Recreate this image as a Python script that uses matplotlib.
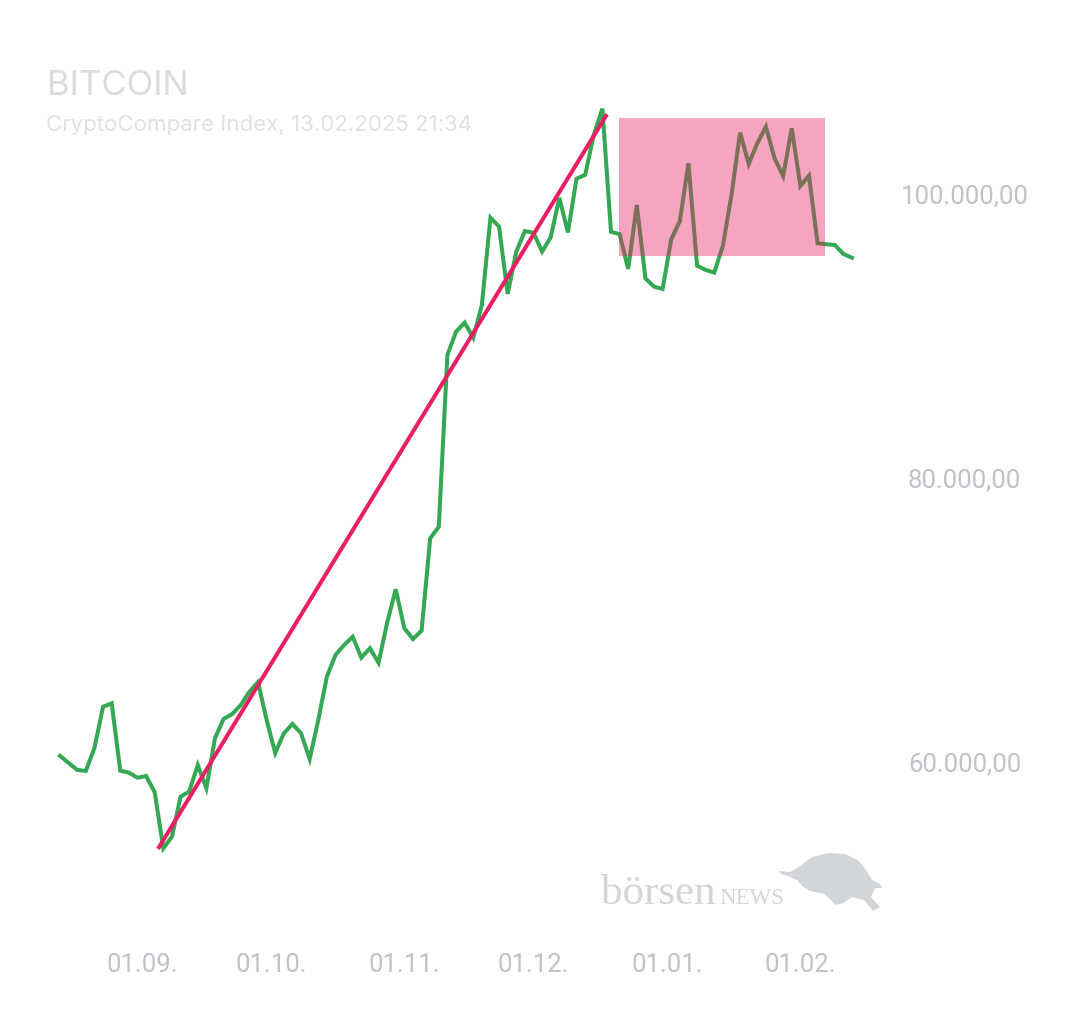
import numpy as np
import pandas as pd
import matplotlib
matplotlib.use("Agg")
import matplotlib.pyplot as plt
from matplotlib.patches import Polygon

# Bitcoin close, sampled every 2 days from 13.08.2024
start_date = "2024-08-13"
prices = [
    60440, 59930, 59440, 59370, 60990, 63890, 64130, 59390, 59250, 58890,
    59010, 57870, 53920, 54740, 57560, 57910, 59790, 58150, 61670, 63030,
    63380, 64010, 64950, 65630, 62960, 60630, 62020, 62680, 62020, 60210,
    62960, 66010, 67540, 68240, 68820, 67350, 68010, 66990, 69810, 72160,
    69420, 68660, 69250, 75750, 76570, 88660, 90300, 90940, 89880, 92180,
    98330, 97700, 92960, 95940, 97390, 97270, 95940, 96950, 99730, 97290,
    101080, 101340, 104150, 106010, 97340, 97170, 94720, 99220, 94060, 93470,
    93310, 96810, 98100, 102160, 94950, 94650, 94460, 96360, 99930, 104320,
    102110, 103570, 104740, 102510, 101270, 104630, 100560, 101290, 96530, 96460,
    96410, 95770, 95510,
]
dates = pd.date_range(start_date, periods=len(prices), freq="2D")

# trend line and consolidation box
trend_dates = pd.to_datetime(["2024-09-05 00:00", "2024-12-17 20:00"])
trend_values = [54000, 105500]
box_dates = pd.to_datetime(["2024-12-20 22:00", "2025-02-06 16:00"])
box_values = [95650, 105350]

tick_dates = pd.to_datetime(["2024-09-01", "2024-10-01", "2024-11-01",
                             "2024-12-01", "2025-01-01", "2025-02-01"])
tick_labels = ["01.09.", "01.10.", "01.11.", "01.12.", "01.01.", "01.02."]
y_ticks = [60000, 80000, 100000]
y_labels = ["60.000,00", "80.000,00", "100.000,00"]

W, H = 1080, 1013
fig = plt.figure(figsize=(W / 100, H / 100), dpi=100)
ax = fig.add_axes([40 / W, (H - 900) / H, 840 / W, 800 / H])

green = "#34a853"
pink = "#e91e63"
label_grey = "#bfc3c8"

ax.plot(dates, prices, color=green, lw=2.9, zorder=2, solid_joinstyle="miter")
ax.plot(trend_dates, trend_values, color=pink, lw=2.9, zorder=3)
ax.fill_between(box_dates, box_values[0], box_values[1], color=pink,
                alpha=0.4, lw=0, zorder=4)

t0 = pd.Timestamp(start_date)
ax.set_xlim(t0 - pd.Timedelta(days=4.65), t0 + pd.Timedelta(days=190.5))
ax.set_ylim(50282, 106618)

for s in ax.spines.values():
    s.set_visible(False)

ax.set_xticks(tick_dates)
ax.set_xticklabels(tick_labels, fontfamily="Roboto", fontsize=18.5, color=label_grey)
ax.tick_params(axis="x", length=0, pad=38)

ax.yaxis.tick_right()
ax.set_yticks(y_ticks)
ax.set_yticklabels(y_labels, fontfamily="Roboto", fontsize=18.5, color=label_grey)
ax.tick_params(axis="y", length=0, pad=61)
for lab in ax.get_yticklabels():
    lab.set_horizontalalignment("center")

# title
fig.text(47 / W, 1 - 95 / H, "BITCOIN", fontfamily="Inter", fontsize=25,
         color="#dadce0", va="baseline")
fig.text(46 / W, 1 - 131 / H, "CryptoCompare Index, 13.02.2025 21:34",
         fontfamily="Inter", fontsize=16, color="#dfe1e4", va="baseline")

# watermark
logo_grey = "#d2d5d9"
fig.text(601 / W, 1 - 904 / H, "börsen", fontfamily="Liberation Serif",
         fontsize=31, color=logo_grey, va="baseline")
fig.text(719 / W, 1 - 904 / H, "NEWS", fontfamily="Liberation Serif",
         fontsize=16.5, color=logo_grey, va="baseline")
bull = [(779, 871), (790, 872), (800, 866), (812, 857), (828, 853), (845, 854),
        (858, 860), (866, 870), (872, 880), (880, 884), (882, 888), (875, 888),
        (871, 897), (880, 907), (873, 911), (864, 900), (852, 897), (843, 903),
        (836, 905), (830, 899), (824, 894), (810, 891), (802, 886), (797, 880),
        (788, 876), (781, 874)]
bull = [(x / W, 1 - y / H) for x, y in bull]
fig.patches.append(Polygon(bull, closed=True, transform=fig.transFigure,
                           facecolor=logo_grey, edgecolor="none"))

fig.savefig("out.png", dpi=100, facecolor="white")
